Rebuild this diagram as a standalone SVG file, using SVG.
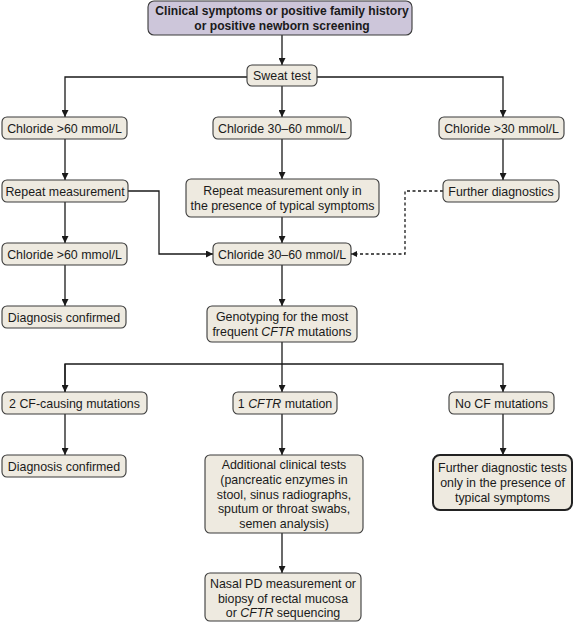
<svg xmlns="http://www.w3.org/2000/svg" width="575" height="622" viewBox="0 0 575 622">
<style>
.b{fill:#eeeae0;stroke:#3a3a3a;stroke-width:1.1}
.bt{fill:#eeeae0;stroke:#222;stroke-width:2}
.tp{fill:#cdc6da;stroke:#3a3a3a;stroke-width:1.1}
text{font-family:"Liberation Sans",Arial,sans-serif;font-size:12.4px;fill:#1a1a1a;text-anchor:middle}
.bold{font-weight:bold;font-size:12.1px}
.i{font-style:italic}
.c{fill:none;stroke:#1a1a1a;stroke-width:1.3}
.d{stroke-dasharray:3,2.5}
</style>
<defs>
<marker id="ah" viewBox="0 0 10 10" refX="10" refY="5" markerWidth="7" markerHeight="7" markerUnits="userSpaceOnUse" orient="auto"><path d="M0,0 L10,5 L0,10 Z" fill="#1a1a1a"/></marker>
<marker id="ahs" viewBox="0 0 10 10" refX="10" refY="5" markerWidth="6" markerHeight="6" markerUnits="userSpaceOnUse" orient="auto"><path d="M0,0 L10,5 L0,10 Z" fill="#1a1a1a"/></marker>
</defs>
<g id="connectors">
<path class="c" d="M282,35 V65" marker-end="url(#ah)"/>
<path class="c" d="M247,77 H65 V117" marker-end="url(#ah)"/>
<path class="c" d="M317,77 H503 V117" marker-end="url(#ah)"/>
<path class="c" d="M282,86 V117" marker-end="url(#ah)"/>
<path class="c" d="M65,139 V180" marker-end="url(#ah)"/>
<path class="c" d="M282,139 V179" marker-end="url(#ah)"/>
<path class="c" d="M503,139 V180" marker-end="url(#ah)"/>
<path class="c" d="M65,202 V243" marker-end="url(#ah)"/>
<path class="c" d="M282,217 V243" marker-end="url(#ah)"/>
<path class="c" d="M128,191 H159 V254 H213" marker-end="url(#ah)"/>
<path class="c d" d="M443,191 H405 V254 H351" marker-end="url(#ahs)"/>
<path class="c" d="M65,265 V306" marker-end="url(#ah)"/>
<path class="c" d="M282,265 V306" marker-end="url(#ah)"/>
<path class="c" d="M282,342 V392" marker-end="url(#ah)"/>
<path class="c" d="M65,392 V364 H503 V392" marker-end="url(#ah)"/>
<path class="c" d="M65,364 V392" marker-end="url(#ah)"/>
<path class="c" d="M65,414 V455" marker-end="url(#ah)"/>
<path class="c" d="M282,414 V455" marker-end="url(#ah)"/>
<path class="c" d="M503,414 V455" marker-end="url(#ah)"/>
<path class="c" d="M282,533 V573" marker-end="url(#ah)"/>
</g>
<g id="start"><rect class="tp" x="148" y="1" width="264" height="34" rx="6"/><text class="bold" x="282" y="14.8">Clinical symptoms or positive family history</text><text class="bold" x="282" y="29.8">or positive newborn screening</text></g>
<g id="sweat"><rect class="b" x="247" y="65" width="70" height="21" rx="5"/><text x="282" y="80">Sweat test</text></g>
<g id="cl60a"><rect class="b" x="2" y="117" width="125" height="22" rx="5"/><text x="64.5" y="132.5">Chloride &gt;60 mmol/L</text></g>
<g id="cl3060a"><rect class="b" x="213" y="117" width="138" height="22" rx="5"/><text x="282" y="132.5">Chloride 30–60 mmol/L</text></g>
<g id="cl30"><rect class="b" x="439" y="117" width="125" height="22" rx="5"/><text x="501.5" y="132.5">Chloride &gt;30 mmol/L</text></g>
<g id="repeat"><rect class="b" x="2" y="180" width="126" height="22" rx="5"/><text x="65" y="195.5">Repeat measurement</text></g>
<g id="repeatonly"><rect class="b" x="186" y="179" width="193" height="38" rx="5"/><text x="282.5" y="195">Repeat measurement only in</text><text x="282.5" y="209.7">the presence of typical symptoms</text></g>
<g id="further"><rect class="b" x="443" y="180" width="116" height="22" rx="5"/><text x="501" y="195.5">Further diagnostics</text></g>
<g id="cl60b"><rect class="b" x="2" y="243" width="125" height="22" rx="5"/><text x="64.5" y="258.5">Chloride &gt;60 mmol/L</text></g>
<g id="cl3060b"><rect class="b" x="213" y="243" width="138" height="22" rx="5"/><text x="282" y="258.5">Chloride 30–60 mmol/L</text></g>
<g id="diag1"><rect class="b" x="2" y="306" width="124" height="22" rx="5"/><text x="64" y="321.5">Diagnosis confirmed</text></g>
<g id="geno"><rect class="b" x="207" y="306" width="150" height="36" rx="5"/><text x="282" y="321">Genotyping for the most</text><text x="282" y="335.7">frequent <tspan class="i">CFTR</tspan> mutations</text></g>
<g id="twocf"><rect class="b" x="2" y="392" width="145" height="22" rx="5"/><text x="74.5" y="407.5">2 CF-causing mutations</text></g>
<g id="onecftr"><rect class="b" x="233" y="392" width="104" height="22" rx="5"/><text x="285" y="407.5">1 <tspan class="i">CFTR</tspan> mutation</text></g>
<g id="nocf"><rect class="b" x="449" y="392" width="105" height="22" rx="5"/><text x="501.5" y="407.5">No CF mutations</text></g>
<g id="diag2"><rect class="b" x="2" y="455" width="124" height="22" rx="5"/><text x="64" y="470.5">Diagnosis confirmed</text></g>
<g id="additional"><rect class="b" x="205" y="455" width="158" height="78" rx="5"/><text x="284" y="469.3">Additional clinical tests</text><text x="284" y="483.9">(pancreatic enzymes in</text><text x="284" y="498.5">stool, sinus radiographs,</text><text x="284" y="513.1">sputum or throat swabs,</text><text x="284" y="527.7">semen analysis)</text></g>
<g id="furthertests"><rect class="bt" x="433" y="455" width="139" height="55" rx="7"/><text x="502.5" y="471.5">Further diagnostic tests</text><text x="502.5" y="486.5">only in the presence of</text><text x="502.5" y="501.5">typical symptoms</text></g>
<g id="nasal"><rect class="b" x="205" y="573" width="156" height="48" rx="5"/><text x="283" y="588">Nasal PD measurement or</text><text x="283" y="602.5">biopsy of rectal mucosa</text><text x="283" y="617">or <tspan class="i">CFTR</tspan> sequencing</text></g>
</svg>
